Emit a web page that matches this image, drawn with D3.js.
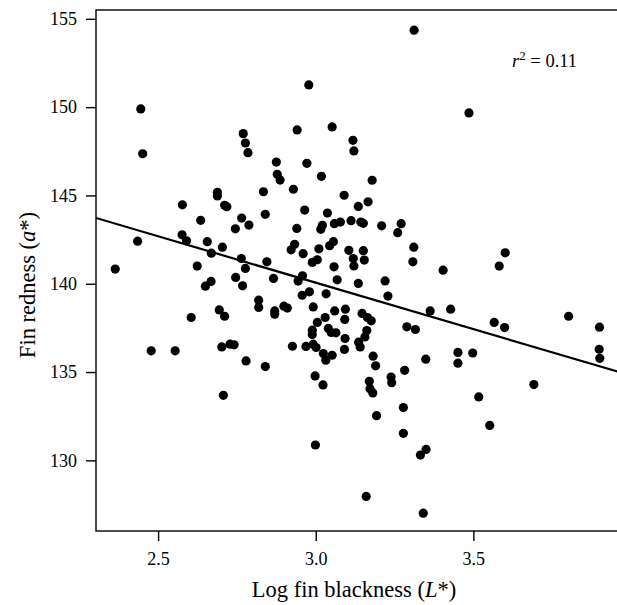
<!DOCTYPE html>
<html>
<head>
<meta charset="utf-8">
<script src="https://cdn.jsdelivr.net/npm/d3@7"></script>
<style>
    body { margin: 0; background: #fff; }
    text { font-family: "Liberation Serif", "Times New Roman", serif; fill: #000; }
</style>
</head>
<body>
<div id="chart"></div>
<script>
// log fin blackness (L*) per fish
var blackness = [
    2.445, 2.451, 2.770, 2.777, 2.785, 2.688, 2.688, 2.711, 2.718, 2.834, 2.577, 2.840, 2.635, 2.765, 2.788, 2.745, 2.576, 2.590, 2.435, 2.656, 2.704, 2.669, 2.764, 2.845, 2.364, 2.624, 2.777,
    2.941, 3.052, 3.118, 3.121, 2.875, 2.972, 2.878, 2.887, 3.018, 3.179, 2.929, 3.090, 3.166, 3.135, 2.965, 3.037, 2.940, 3.021, 3.016, 3.059, 3.078, 3.112, 3.143, 3.151, 3.209, 3.271, 3.260, 2.933, 2.922, 2.960, 3.010, 3.044, 3.056, 3.105, 3.151, 3.311, 3.308, 3.119, 3.121, 3.154, 2.989, 3.005, 3.058,
    3.486, 3.601, 3.582, 3.404,
    2.746, 2.768, 2.668, 2.650, 2.819, 2.819, 2.605, 2.694, 2.711, 2.478, 2.554, 2.702, 2.728, 2.741, 2.779, 2.840, 2.707,
    2.866, 2.958, 2.944, 3.068, 3.135, 3.220, 3.229, 2.957, 2.980, 3.033, 2.870, 2.870, 2.899, 2.910, 2.992, 3.060, 3.094, 3.092, 3.030, 3.005, 3.147, 3.164, 3.176, 3.363, 2.989, 2.989, 3.040, 3.049, 3.064, 3.093, 3.162, 3.156, 3.136, 3.141, 2.926, 2.969, 2.992, 3.001, 3.024, 3.032, 3.052, 3.091, 3.182, 3.190, 3.289, 3.316, 3.349, 3.282, 2.998, 3.023, 3.170, 3.172, 3.181, 3.239, 3.241, 3.278, 3.193, 3.278,
    2.999, 3.350, 3.332, 3.160, 3.341,
    3.428, 3.566, 3.599, 3.802, 3.900, 3.899, 3.901, 3.451, 3.451, 3.498, 3.692, 3.517, 3.552,
    3.312, 2.978
];
// fin redness (a*) per fish, same order
var redness = [
    149.90, 147.36, 148.50, 147.97, 147.42, 145.18, 144.97, 144.44, 144.36, 145.21, 144.47, 143.93, 143.59, 143.72, 143.32, 143.11, 142.77, 142.43, 142.41, 142.38, 142.07, 141.73, 141.43, 141.24, 140.83, 141.00, 140.87,
    148.71, 148.88, 148.12, 147.52, 146.89, 146.82, 146.20, 145.87, 146.08, 145.86, 145.35, 145.01, 144.64, 144.38, 144.17, 144.00, 143.13, 143.31, 143.08, 143.40, 143.49, 143.57, 143.49, 143.42, 143.28, 143.40, 142.89, 142.23, 141.92, 141.70, 141.98, 142.15, 142.38, 141.89, 141.87, 142.07, 141.24, 141.43, 141.01, 141.34, 141.21, 141.36, 140.96,
    149.67, 141.75, 141.00, 140.77,
    140.36, 139.88, 140.13, 139.86, 139.07, 138.66, 138.09, 138.52, 138.16, 136.20, 136.20, 136.42, 136.58, 136.54, 135.63, 135.31, 133.68,
    140.30, 140.45, 140.15, 140.22, 140.02, 140.16, 139.30, 139.35, 139.54, 139.43, 138.46, 138.28, 138.73, 138.62, 138.69, 138.46, 138.56, 137.98, 138.09, 137.81, 138.32, 138.09, 137.90, 138.46, 137.37, 137.13, 137.47, 137.24, 137.22, 136.90, 137.35, 136.99, 136.69, 136.42, 136.46, 136.45, 136.58, 136.39, 136.05, 135.67, 135.95, 136.28, 135.90, 135.35, 137.56, 137.41, 135.73, 135.10, 134.78, 134.27, 134.48, 134.06, 133.82, 134.72, 134.40, 132.99, 132.53, 131.53,
    130.87, 130.62, 130.30, 127.96, 127.01,
    138.56, 137.81, 137.52, 138.16, 137.54, 136.29, 135.78, 136.11, 135.50, 136.08, 134.29, 133.59, 131.98,
    154.36, 151.26
];
var xTicks = [2.5, 3.0, 3.5],
    yTicks = [130, 135, 140, 145, 150, 155];
// fitted line: redness = intercept + slope * blackness
var fitIntercept = 155.84,
    fitSlope = -5.26,
    rSquared = "0.11";

var width = 617,
    height = 605,
    margin = {top: 10, right: -14, bottom: 74, left: 96}, // plot runs off the right edge like the original
    innerW = width - margin.left - margin.right,
    innerH = height - margin.top - margin.bottom;

var points = blackness.map(function (d, i) {
    return {x: d, y: redness[i]};
});

var x = d3.scaleLinear().domain([2.303, 4.0]).range([0, innerW]);
var y = d3.scaleLinear().domain([126, 155.5]).range([innerH, 0]);

var svg = d3.select("#chart").append("svg")
    .attr("width", width)
    .attr("height", height)
    .append("g")
    .attr("transform", "translate(" + margin.left + "," + margin.top + ")");

svg.append("defs").append("clipPath")
    .attr("id", "plotClip")
    .append("rect")
    .attr("width", innerW)
    .attr("height", innerH);

// frame
svg.append("rect")
    .attr("width", innerW)
    .attr("height", innerH)
    .style("fill", "none")
    .style("stroke", "#000")
    .style("stroke-width", 1.4);

var xAxis = svg.append("g")
    .attr("transform", "translate(0," + innerH + ")")
    .call(d3.axisBottom(x).tickValues(xTicks).tickFormat(d3.format(".1f")).tickSize(10).tickPadding(11));

var yAxis = svg.append("g")
    .call(d3.axisLeft(y).tickValues(yTicks).tickSize(10).tickPadding(9));

[xAxis, yAxis].forEach(function (ax) {
    ax.select(".domain").remove();
    ax.selectAll("line").style("stroke", "#000").style("stroke-width", 1.4);
    ax.selectAll("text").style("font-size", "18px").style("font-family", "Liberation Serif");
});

// regression line
svg.append("line")
    .attr("clip-path", "url(#plotClip)")
    .attr("x1", x(x.domain()[0]))
    .attr("y1", y(fitIntercept + fitSlope * x.domain()[0]))
    .attr("x2", x(x.domain()[1]))
    .attr("y2", y(fitIntercept + fitSlope * x.domain()[1]))
    .style("stroke", "#000")
    .style("stroke-width", 2.2);

svg.selectAll(".dot")
    .data(points)
    .enter().append("circle")
    .attr("class", "dot")
    .attr("cx", function (d) { return x(d.x); })
    .attr("cy", function (d) { return y(d.y); })
    .attr("r", 4.6)
    .style("fill", "#000");

// r squared note
var note = svg.append("text")
    .attr("x", 416)
    .attr("y", 57)
    .style("font-size", "18.5px");
note.append("tspan").style("font-style", "italic").text("r");
note.append("tspan").attr("dy", -7).style("font-size", "13px").text("2");
note.append("tspan").attr("dy", 7).text(" = " + rSquared);

// axis titles
var xTitle = svg.append("text")
    .attr("x", 258)
    .attr("y", 587)
    .attr("text-anchor", "middle")
    .style("font-size", "22.5px");
xTitle.append("tspan").text("Log fin blackness (");
xTitle.append("tspan").style("font-style", "italic").text("L");
xTitle.append("tspan").text("*)");

var yTitle = svg.append("text")
    .attr("transform", "translate(-61," + 275 + ") rotate(-90)")
    .attr("text-anchor", "middle")
    .style("font-size", "22.5px");
yTitle.append("tspan").text("Fin redness (");
yTitle.append("tspan").style("font-style", "italic").text("a");
yTitle.append("tspan").text("*)");
</script>
</body>
</html>
